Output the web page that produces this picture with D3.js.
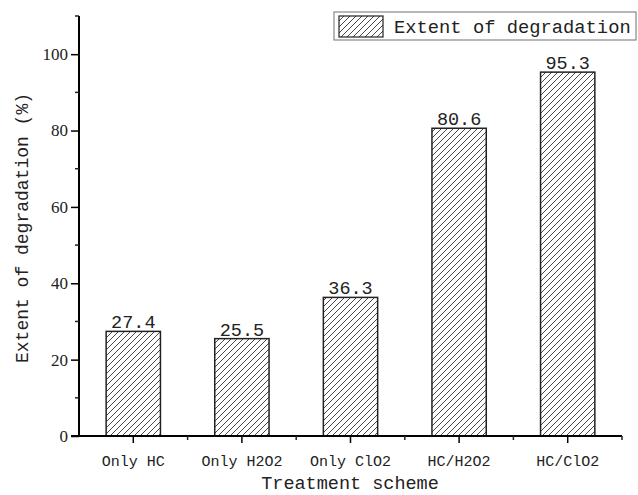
<!DOCTYPE html>
<html>
<head>
<meta charset="utf-8">
<script src="https://cdn.jsdelivr.net/npm/d3@7"></script>
<style>
  body { margin: 0; background: #fff; }
  text { font-family: "Liberation Mono", "DejaVu Sans Mono", monospace; fill: #222; }
</style>
</head>
<body>
<div id="chart"></div>
<script>
var svgWidth = 638;
var svgHeight = 495;

// data
var schemes = ["Only HC", "Only H2O2", "Only ClO2", "HC/H2O2", "HC/ClO2"];
var degradation = [27.4, 25.5, 36.3, 80.6, 95.3];
var yTicks = [0, 20, 40, 60, 80, 100];
var yMinorTicks = [10, 30, 50, 70, 90, 110];

var plotLeft = 79, plotRight = 622, plotTop = 16, plotBottom = 436;

var svg = d3.select("#chart")
  .append("svg")
  .attr("width", svgWidth)
  .attr("height", svgHeight);

// hatch pattern
var defs = svg.append("defs");
var pat = defs.append("pattern")
  .attr("id", "hatch")
  .attr("patternUnits", "userSpaceOnUse")
  .attr("width", 6)
  .attr("height", 6);
pat.append("rect").attr("width", 6).attr("height", 6).attr("fill", "#fff");
pat.append("path")
  .attr("d", "M-1,1 L1,-1 M0,6 L6,0 M5,7 L7,5")
  .attr("stroke", "#333")
  .attr("stroke-width", 0.9);

var xScale = d3.scaleBand()
  .domain(schemes)
  .range([plotLeft, plotRight])
  .paddingInner(0.5)
  .paddingOuter(0.25);

var yScale = d3.scaleLinear()
  .domain([0, 110])
  .range([plotBottom, plotTop]);

// bars
svg.selectAll("rect.bar")
  .data(degradation)
  .enter()
  .append("rect")
  .attr("class", "bar")
  .attr("x", (d, i) => xScale(schemes[i]))
  .attr("y", d => yScale(d))
  .attr("width", xScale.bandwidth())
  .attr("height", d => yScale(0) - yScale(d))
  .attr("fill", "url(#hatch)")
  .attr("stroke", "#222")
  .attr("stroke-width", 1.5);

// value labels
svg.selectAll("text.val")
  .data(degradation)
  .enter()
  .append("text")
  .attr("class", "val")
  .attr("x", (d, i) => xScale(schemes[i]) + xScale.bandwidth() / 2)
  .attr("y", d => yScale(d) - 3)
  .attr("text-anchor", "middle")
  .style("font-size", "18.5px")
  .text(d => d.toFixed(1));

// y axis
var yAxis = d3.axisLeft(yScale).tickValues(yTicks).tickSize(8).tickPadding(3);
var yG = svg.append("g")
  .attr("transform", `translate(${plotLeft},0)`)
  .call(yAxis);
yG.select(".domain").attr("d", `M0,${plotTop}V${plotBottom}`).attr("stroke-width", 2);
yG.selectAll(".tick line").attr("stroke-width", 1.5);
yG.selectAll(".tick text").style("font-size", "17px").style("font-family", "Liberation Serif").attr("fill", "#222");

yG.selectAll(".minor")
  .data(yMinorTicks)
  .enter()
  .append("line")
  .attr("class", "minor")
  .attr("x1", -4).attr("x2", 0)
  .attr("y1", d => yScale(d)).attr("y2", d => yScale(d))
  .attr("stroke", "#222").attr("stroke-width", 1.5);

// x axis
var xAxis = d3.axisBottom(xScale).tickSize(7).tickPadding(12);
var xG = svg.append("g")
  .attr("transform", `translate(0,${plotBottom})`)
  .call(xAxis);
xG.select(".domain").attr("d", `M${plotLeft - 8},0H${plotRight}`).attr("stroke-width", 2);
xG.selectAll(".tick line").attr("stroke-width", 1.5);
xG.selectAll(".tick text").style("font-size", "15px").style("font-family", "Liberation Mono").attr("fill", "#222");

// minor x ticks between categories and at right end
var xMinor = schemes.slice(1).map(s => xScale(s) - xScale.step() * 0.25);
xMinor.push(plotRight);
xG.selectAll(".minor")
  .data(xMinor)
  .enter()
  .append("line")
  .attr("class", "minor")
  .attr("x1", d => d).attr("x2", d => d)
  .attr("y1", 0).attr("y2", 4)
  .attr("stroke", "#222").attr("stroke-width", 1.5);

// axis titles
svg.append("text")
  .attr("transform", `translate(28,${(plotTop + plotBottom) / 2 + 2}) rotate(-90)`)
  .attr("text-anchor", "middle")
  .style("font-size", "18px")
  .text("Extent of degradation (%)");

svg.append("text")
  .attr("x", 350)
  .attr("y", 489)
  .attr("text-anchor", "middle")
  .style("font-size", "18.5px")
  .text("Treatment scheme");

// legend
var legend = svg.append("g");
legend.append("rect")
  .attr("x", 334).attr("y", 12)
  .attr("width", 302).attr("height", 28)
  .attr("fill", "#fff")
  .attr("stroke", "#888")
  .attr("stroke-width", 1.2);
legend.append("rect")
  .attr("x", 339).attr("y", 16)
  .attr("width", 44).attr("height", 21)
  .attr("fill", "url(#hatch)")
  .attr("stroke", "#222")
  .attr("stroke-width", 1.2);
legend.append("text")
  .attr("x", 394).attr("y", 33)
  .style("font-size", "18.8px")
  .text("Extent of degradation");
</script>
</body>
</html>
